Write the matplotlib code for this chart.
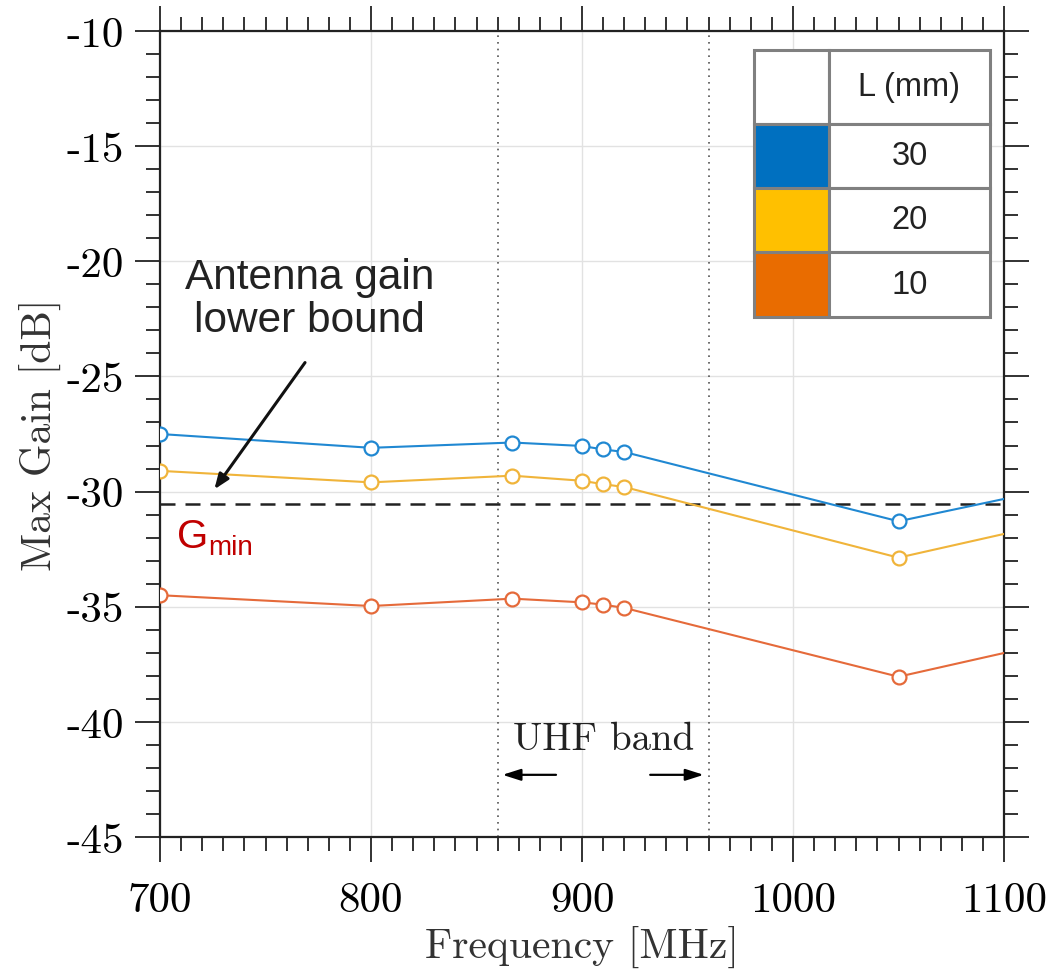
import matplotlib
matplotlib.use("Agg")
import matplotlib.pyplot as plt
from matplotlib.patches import Rectangle
from matplotlib.ticker import MultipleLocator

plt.rcParams['axes.unicode_minus'] = False

# data
freq = [700, 800, 867, 900, 910, 920, 1050, 1100]
gain_30 = [-27.5, -28.1, -27.87, -28.02, -28.17, -28.28, -31.29, -30.32]
gain_20 = [-29.1, -29.6, -29.31, -29.53, -29.68, -29.80, -32.87, -31.84]
gain_10 = [-34.5, -34.97, -34.65, -34.81, -34.91, -35.05, -38.04, -37.01]
lengths = ['30', '20', '10']
g_min = -30.55
uhf_band = [860, 960]

line_colors = ['#2088d2', '#f0b43a', '#e56a3a']
cell_colors = ['#0070C0', '#FFC000', '#E96C00']

serif = 'cmr10'
sans = 'Liberation Sans'

fig = plt.figure(figsize=(10.48, 9.70), dpi=100)
ax = fig.add_axes([160 / 1048, 1 - 838 / 970, 844 / 1048, 806 / 970])

ax.set_xlim(700, 1100)
ax.set_ylim(-45, -10)
ax.grid(True, which='major', color='#e2e2e2', linewidth=1.0)
ax.set_axisbelow(True)

for v in uhf_band:
    ax.axvline(v, color='#555555', linestyle=(0, (1, 3)), linewidth=1.2, zorder=1)

ax.axhline(g_min, color='#222222', linestyle=(0, (6, 4)), linewidth=1.8, zorder=2)

for vals, c in zip([gain_30, gain_20, gain_10], line_colors):
    ax.plot(freq, vals, color=c, linewidth=1.5, marker='o', markersize=10,
            markerfacecolor='white', markeredgecolor=c, markeredgewidth=1.6,
            markevery=list(range(len(freq) - 1)), zorder=3)

# ticks on all four sides, pointing out
ax.xaxis.set_major_locator(MultipleLocator(100))
ax.xaxis.set_minor_locator(MultipleLocator(10))
ax.yaxis.set_major_locator(MultipleLocator(5))
ax.yaxis.set_minor_locator(MultipleLocator(1))
ax.tick_params(which='both', direction='out', top=True, right=True,
               width=1.3, color='#222222')
ax.tick_params(which='major', length=18)
ax.tick_params(axis='x', which='major', pad=14)
ax.tick_params(axis='y', which='major', pad=8)
ax.tick_params(which='minor', length=10)
for s in ax.spines.values():
    s.set_linewidth(1.6)
    s.set_color('#222222')

xt = list(range(700, 1101, 100))
yt = list(range(-45, -9, 5))
ax.set_xticks(xt)
ax.set_xticklabels([str(t) for t in xt], fontfamily=serif, fontsize=31)
ax.set_yticks(yt)
ax.set_yticklabels([str(t) for t in yt], fontfamily=serif, fontsize=31)

ax.set_xlabel('Frequency [MHz]', fontfamily=serif, fontsize=30, labelpad=4,
              color='#333333')
ax.set_ylabel('Max Gain [dB]', fontfamily=serif, fontsize=30, labelpad=4,
              color='#333333')

# UHF band marker
ax.text(910, -40.75, 'UHF band', fontfamily=serif, fontsize=28,
        ha='center', va='center', color='#222222')
head = '-|>,head_length=1.1,head_width=0.35'
ax.annotate('', xy=(861, -42.3), xytext=(889, -42.3),
            arrowprops=dict(arrowstyle=head, color='black', lw=1.6))
ax.annotate('', xy=(959, -42.3), xytext=(931, -42.3),
            arrowprops=dict(arrowstyle=head, color='black', lw=1.6))

# lower bound annotation
ax.text(771, -21.6, 'Antenna gain\nlower bound', fontfamily=sans, fontsize=30.5,
        ha='center', va='center', linespacing=1.1, color='#222222')
ax.annotate('', xy=(725, -30.0), xytext=(769.5, -24.3),
            arrowprops=dict(arrowstyle='-|>,head_length=0.9,head_width=0.35',
                            color='#111111', lw=2.2))
ax.text(708, -32.4, 'G', fontfamily=sans, fontsize=29, color='#C00000',
        va='baseline', ha='left')
ax.text(723, -32.72, 'min', fontfamily=sans, fontsize=20, color='#C00000',
        va='baseline', ha='left')

# legend drawn as a table
tab = fig.add_axes([754 / 1048, 1 - 318 / 970, 236 / 1048, 267 / 970])
tab.set_xlim(0, 236)
tab.set_ylim(267, 0)
tab.axis('off')
col_w = [75, 161]
row_h = [74, 64, 64, 65]
edge = '#808080'
y0 = 0
for r, h in enumerate(row_h):
    x0 = 0
    for c, w in enumerate(col_w):
        fc = 'white'
        if c == 0 and r > 0:
            fc = cell_colors[r - 1]
        tab.add_patch(Rectangle((x0, y0), w, h, facecolor=fc, edgecolor=edge,
                                linewidth=2.2, clip_on=False))
        if c == 1:
            label = 'L (mm)' if r == 0 else lengths[r - 1]
            tab.text(x0 + w / 2, y0 + h / 2, label, fontfamily=sans,
                     fontsize=23.5, ha='center', va='center', color='#222222')
        x0 += w
    y0 += h

fig.savefig('out.png', dpi=100)
